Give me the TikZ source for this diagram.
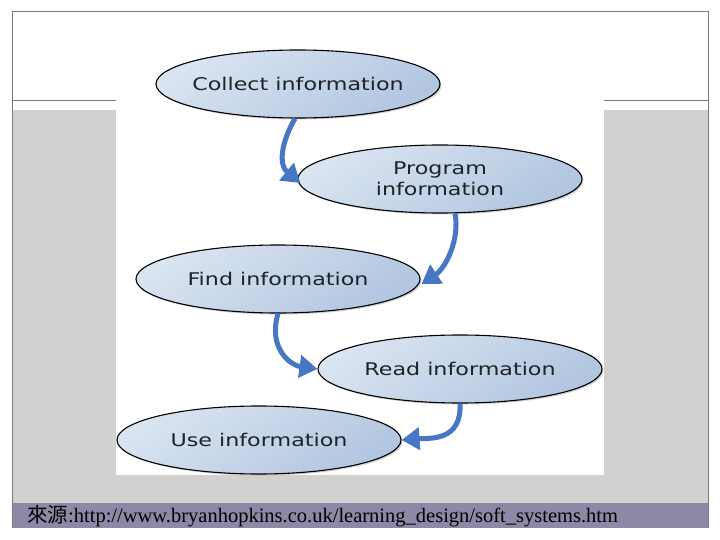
\documentclass[tikz,border=0pt]{standalone}
\usepackage{fontspec}
\setmainfont{Liberation Serif}
\newfontfamily\labelfont[FakeStretch=1.27]{DejaVu Sans}
\newfontfamily\cjk{Noto Sans CJK TC}
\usetikzlibrary{arrows.meta,shapes.geometric,shadows}
\definecolor{slidegray}{HTML}{D3D1CF}
\definecolor{footpurple}{HTML}{8C89A6}
\definecolor{framegray}{HTML}{7A7A7A}
\definecolor{arrowblue}{HTML}{4676C4}
\definecolor{elltop}{HTML}{D9E4F1}
\definecolor{ellbot}{HTML}{B2C6E0}
\definecolor{txtdark}{HTML}{1E2328}
\tikzset{
  stage/.style={ellipse, draw=black, line width=1.1pt, minimum width=284pt,
    minimum height=68pt, inner xsep=-40pt, inner ysep=0pt, align=center,
    top color=elltop, bottom color=ellbot, shading angle=35,
    drop shadow={opacity=0.35, shadow xshift=1.5pt, shadow yshift=-1.5pt},
    font=\labelfont\fontsize{17.5}{20}\selectfont, text=txtdark},
  flow/.style={draw=arrowblue, line width=5pt,
    -{Triangle[length=18pt,width=22pt]}},
  frameline/.style={draw=framegray, line width=1pt}
}
\begin{document}
\begin{tikzpicture}[x=1pt,y=-1pt]
\useasboundingbox (0,0) rectangle (720,540);
\fill[white] (0,0) rectangle (720,540);
\fill[slidegray] (12,110) rectangle (708,503);
\fill[footpurple] (12,503) rectangle (708,528);
\fill[white] (116,40) rectangle (604,475);
\draw[frameline] (12,528) -- (12,12) -- (708,12) -- (708,528);
\draw[frameline] (12,100.5) -- (116,100.5);
\draw[frameline] (604,100.5) -- (708,100.5);

\node[stage] (c1) at (298,84) {Collect information};
\node[stage] (c2) at (440,179) {Program\\[1pt]information};
\node[stage] (c3) at (278,279) {Find information};
\node[stage] (c4) at (460,369) {Read information};
\node[stage] (c5) at (259,440) {Use information};

\draw[flow] ([xshift=-3pt]c1.south) .. controls +(-14,24) and +(-22,-18) .. ([xshift=3pt,yshift=-4pt]c2.west);
\draw[flow] ([xshift=15pt]c2.south) .. controls +(5,26) and +(24,-16) .. ([xshift=1pt,yshift=-5pt]c3.east);
\draw[flow] (c3.south) .. controls +(-10,34) and +(-28,-4) .. (c4.west);
\draw[flow] (c4.south) .. controls +(2,38) and +(28,-2) .. (c5.east);

\node[anchor=base west, inner sep=0pt, font=\fontsize{20.5}{22}\selectfont] (src) at (27,522)
  {{\cjk 來源}:http://www.bryanhopkins.co.uk/learning\_design/soft\_systems.htm};
\end{tikzpicture}
\end{document}
